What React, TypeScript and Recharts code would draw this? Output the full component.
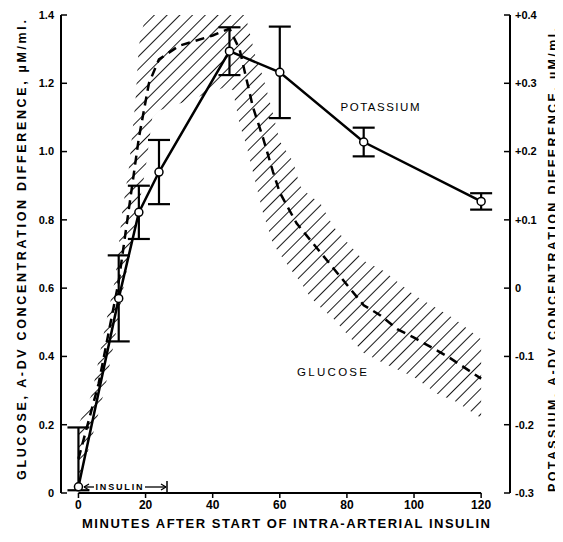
/** Glucose and potassium A-DV differences after intra-arterial insulin. */

import {
  ComposedChart,
  Line,
  Area,
  XAxis,
  YAxis,
  ErrorBar,
  ReferenceLine,
} from 'recharts'

// x axis: minutes
const X_TICKS = [0, 20, 40, 60, 80, 100, 120]
const GLUCOSE_TICKS = [0, 0.2, 0.4, 0.6, 0.8, 1.0, 1.2, 1.4]
const POTASSIUM_TICKS = [-0.3, -0.2, -0.1, 0, 0.1, 0.2, 0.3, 0.4]

// potassium (right axis), mean ± error
const potassiumMinutes = [0, 12, 18, 24, 45, 60, 85, 120]
const potassiumValues = [-0.291, -0.015, 0.111, 0.17, 0.347, 0.316, 0.214, 0.127]
const potassiumErrors: (number | number[])[] = [[0.005, 0.087], 0.063, 0.039, 0.047, 0.035, 0.067, 0.021, 0.012]

// glucose mean (left axis), dashed
const glucoseMinutes = [0, 6, 12, 18, 21, 24, 30, 40, 45, 48, 52, 55, 58, 60, 65, 70, 75, 80, 85, 90, 95, 100, 110, 120]
const glucoseValues = [0.1, 0.32, 0.62, 1.04, 1.2, 1.27, 1.31, 1.34, 1.36, 1.3, 1.13, 1.04, 0.94, 0.88, 0.79, 0.73, 0.67, 0.61, 0.55, 0.52, 0.48, 0.455, 0.4, 0.335]

// glucose spread (hatched band)
const bandMinutes = [0, 4, 8, 11, 13, 15, 17, 18, 20, 22, 24, 30, 37, 44, 46, 48, 50, 53, 55, 58, 60, 64, 66, 69, 72, 76, 85, 91, 100, 107, 112, 120]
const bandLow = [0.03, 0.16, 0.31, 0.46, 0.58, 0.68, 0.78, 0.84, 0.95, 1.1, 1.12, 1.14, 1.165, 1.19, 1.18, 1.08, 1.02, 0.9, 0.82, 0.73, 0.7, 0.645, 0.62, 0.575, 0.545, 0.51, 0.41, 0.38, 0.34, 0.29, 0.27, 0.22]
const bandHigh = [0.2, 0.29, 0.49, 0.63, 0.82, 0.95, 1.15, 1.31, 1.4, 1.45, 1.5, 1.55, 1.58, 1.6, 1.58, 1.5, 1.39, 1.27, 1.22, 1.11, 1.03, 0.97, 0.9, 0.87, 0.85, 0.78, 0.68, 0.65, 0.58, 0.54, 0.51, 0.45]

const potassiumData = potassiumMinutes.map((t, i) => ({ t, k: potassiumValues[i], err: potassiumErrors[i] }))
const glucoseData = glucoseMinutes.map((t, i) => ({ t, g: glucoseValues[i] }))
const bandData = bandMinutes.map((t, i) => ({ t, range: [bandLow[i], bandHigh[i]] }))

const FONT = "'Liberation Sans', Arial, sans-serif"
const tickStyle = { fontSize: 11, fontWeight: 700, fill: '#000', fontFamily: FONT }

const fmtGlucose = (v: number) => (v === 0 ? '0' : v.toFixed(1))
const fmtPotassium = (v: number) => {
  if (Math.abs(v) < 1e-9) return '0'
  return (v > 0 ? '+' : '-') + Math.abs(v).toFixed(1)
}

// text laid over the chart, in page coordinates (shifted by the 8px body margin)
function Overlay() {
  const txt = { fontFamily: FONT, fontWeight: 700, fill: '#000' } as const
  return (
    <svg width={555} height={526} style={{ position: 'absolute', left: 0, top: 0, pointerEvents: 'none' }}>
      <g transform="translate(-8,-8)">
        <text
          {...txt}
          fontSize={12.5}
          x={22}
          y={250}
          transform="rotate(-90 22 250)"
          textAnchor="middle"
          dominantBaseline="central"
          textLength={460}
          lengthAdjust="spacing"
        >
          GLUCOSE,  A-DV  CONCENTRATION  DIFFERENCE,  µM/ml.
        </text>
        <text
          {...txt}
          fontSize={12.5}
          x={553}
          y={260}
          transform="rotate(-90 553 260)"
          textAnchor="middle"
          dominantBaseline="central"
          textLength={464}
          lengthAdjust="spacing"
        >
          POTASSIUM,  A-DV  CONCENTRATION  DIFFERENCE,  µM/ml.
        </text>
        <text
          {...txt}
          fontSize={13}
          x={286}
          y={523}
          textAnchor="middle"
          dominantBaseline="central"
          textLength={408}
          lengthAdjust="spacing"
        >
          MINUTES  AFTER  START  OF  INTRA-ARTERIAL  INSULIN
        </text>
        <text {...txt} fontSize={11.5} fontWeight={400} x={380} y={107} textAnchor="middle" dominantBaseline="central" textLength={79} lengthAdjust="spacing">
          POTASSIUM
        </text>
        <text {...txt} fontSize={11.5} fontWeight={400} x={332} y={372} textAnchor="middle" dominantBaseline="central" textLength={70} lengthAdjust="spacing">
          GLUCOSE
        </text>
        {/* insulin infusion period */}
        <text {...txt} fontSize={9} x={119} y={487} textAnchor="middle" dominantBaseline="central" textLength={47} lengthAdjust="spacing">
          INSULIN
        </text>
        <line x1={84} y1={487} x2={94} y2={487} stroke="#000" strokeWidth={1.3} />
        <path d="M84 487 L89 484 M84 487 L89 490" stroke="#000" strokeWidth={1.3} fill="none" />
        <line x1={145} y1={487} x2={166} y2={487} stroke="#000" strokeWidth={1.3} />
        <path d="M166 487 L161 484 M166 487 L161 490" stroke="#000" strokeWidth={1.3} fill="none" />
        <line x1={167} y1={481} x2={167} y2={493} stroke="#000" strokeWidth={1.5} />
      </g>
    </svg>
  )
}

export default function App() {
  return (
    <div style={{ position: 'relative', width: 555, height: 526, background: '#fff' }}>
      <ComposedChart width={547} height={526} margin={{ top: 7, right: 15, bottom: 11, left: 13 }}>
        <defs>
          <pattern id="hatch" width="9" height="9" patternUnits="userSpaceOnUse" patternTransform="rotate(45)">
            <line x1="0" y1="0" x2="0" y2="9" stroke="#000" strokeWidth="1.8" />
          </pattern>
        </defs>
        <XAxis
          type="number"
          dataKey="t"
          domain={[-5.2, 128.6]}
          ticks={X_TICKS}
          axisLine={false}
          tickLine={{ stroke: '#000', strokeWidth: 1.5 }}
          tickSize={5}
          tickMargin={2}
          height={30}
          tick={{ ...tickStyle, fontSize: 12 }}
          allowDataOverflow
        />
        <YAxis
          yAxisId="left"
          orientation="left"
          type="number"
          domain={[0, 1.4]}
          ticks={GLUCOSE_TICKS}
          tickFormatter={fmtGlucose}
          width={40}
          axisLine={{ stroke: '#000', strokeWidth: 2 }}
          tickLine={{ stroke: '#000', strokeWidth: 1.5 }}
          tickSize={-6}
          tickMargin={13}
          tick={tickStyle}
          allowDataOverflow
        />
        <YAxis
          yAxisId="right"
          orientation="right"
          type="number"
          domain={[-0.3, 0.4]}
          ticks={POTASSIUM_TICKS}
          tickFormatter={fmtPotassium}
          width={30}
          axisLine={{ stroke: '#000', strokeWidth: 2 }}
          tickLine={{ stroke: '#000', strokeWidth: 1.5 }}
          tickSize={-6}
          tickMargin={11}
          tick={{ ...tickStyle, textAnchor: 'start' }}
          allowDataOverflow
        />
        <ReferenceLine
          yAxisId="left"
          segment={[{ x: 0, y: 0 }, { x: 120, y: 0 }]}
          stroke="#000"
          strokeWidth={2}
        />
        <Area
          yAxisId="left"
          data={bandData}
          dataKey="range"
          type="linear"
          stroke="none"
          fill="url(#hatch)"
          fillOpacity={1}
          isAnimationActive={false}
        />
        <Line
          yAxisId="left"
          data={glucoseData}
          dataKey="g"
          type="linear"
          stroke="#000"
          strokeWidth={2.5}
          strokeDasharray="9 6"
          dot={false}
          isAnimationActive={false}
        />
        <Line
          yAxisId="right"
          data={potassiumData}
          dataKey="k"
          type="linear"
          stroke="#000"
          strokeWidth={2.5}
          dot={{ r: 4, fill: '#fff', stroke: '#000', strokeWidth: 1.5 }}
          isAnimationActive={false}
        >
          <ErrorBar dataKey="err" direction="y" width={11} stroke="#000" strokeWidth={2.2} />
        </Line>
      </ComposedChart>
      <Overlay />
    </div>
  )
}
